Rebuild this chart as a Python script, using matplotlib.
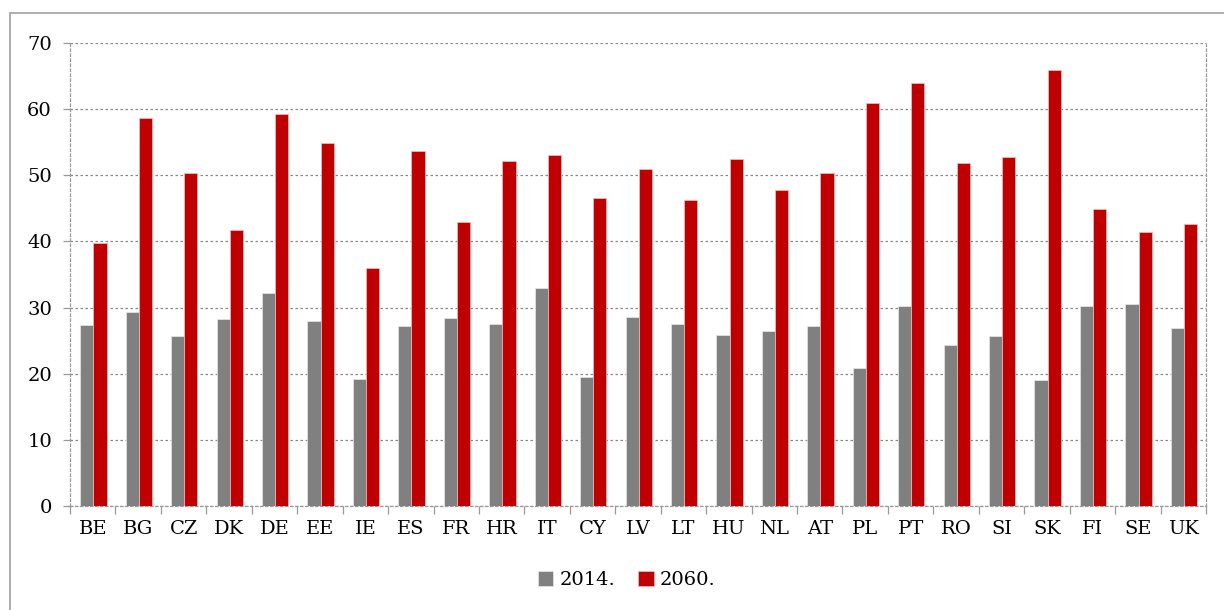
import matplotlib
matplotlib.use("Agg")
import matplotlib.pyplot as plt
import numpy as np
from matplotlib.patches import Rectangle

countries = ["BE", "BG", "CZ", "DK", "DE", "EE", "IE", "ES", "FR", "HR", "IT", "CY", "LV",
             "LT", "HU", "NL", "AT", "PL", "PT", "RO", "SI", "SK", "FI", "SE", "UK"]
v2014 = [27.3, 29.3, 25.7, 28.3, 32.2, 27.9, 19.2, 27.2, 28.4, 27.5, 32.9, 19.5, 28.6,
         27.5, 25.8, 26.4, 27.2, 20.9, 30.2, 24.3, 25.7, 19.0, 30.2, 30.6, 26.9]
v2060 = [39.8, 58.7, 50.3, 41.7, 59.2, 54.9, 36.0, 53.7, 42.9, 52.2, 53.1, 46.6, 51.0,
         46.2, 52.5, 47.8, 50.4, 60.9, 63.9, 51.9, 52.8, 65.9, 44.9, 41.4, 42.7]
series_labels = ["2014.", "2060."]
yticks = [0, 10, 20, 30, 40, 50, 60, 70]

W, H = 1224, 610
fig = plt.figure(figsize=(W / 100, H / 100), dpi=100)
plt.rcParams['font.family'] = ['DejaVu Serif']

# outer border
fig.patches.append(Rectangle((10 / W, -0.1), 1.2, (H - 13) / H + 0.1, transform=fig.transFigure,
                             fill=False, edgecolor="#a0a0a0", linewidth=1.2))

left, right, top, bottom = 70, 1206, 43, 506
ax = fig.add_axes([left / W, 1 - bottom / H, (right - left) / W, (bottom - top) / H])

x = np.arange(len(countries))
bw = 0.29
gray = "#808080"
red = "#C00000"
ax.bar(x + 0.015 - bw / 2, v2014, bw, color=gray, edgecolor="#e8e8e8", linewidth=0.5,
       label=series_labels[0], zorder=3)
ax.bar(x + 0.015 + bw / 2, v2060, bw, color=red, edgecolor="#f0c0c0", linewidth=0.5,
       label=series_labels[1], zorder=3)

ax.set_xlim(-0.5, len(countries) - 0.5)
ax.set_ylim(0, 70)
ax.set_yticks(yticks)
ax.set_yticklabels([str(t) for t in yticks], fontsize=14)
ax.yaxis.grid(True, linestyle=(0, (2, 2)), color="#888888", linewidth=0.9, zorder=0)
ax.set_axisbelow(True)

for s in ["left", "right", "top", "bottom"]:
    ax.spines[s].set_linestyle((0, (2, 2)))
    ax.spines[s].set_color("#999999")
    ax.spines[s].set_linewidth(0.9)
ax.spines["top"].set_visible(False)

ax.set_xticks(x)
ax.set_xticklabels(countries, fontsize=14)
ax.tick_params(axis="x", length=0, pad=10)
ax.set_xticks(np.arange(-0.5, len(countries), 1), minor=True)
ax.tick_params(axis="x", which="minor", length=6, color="#999999", width=0.9)
ax.tick_params(axis="y", length=5, color="#999999", width=0.9, pad=8)

fig.legend(loc="center", bbox_to_anchor=(0.512, 1 - 580 / H), ncol=2, frameon=False,
           fontsize=14, handlelength=0.8, handleheight=0.8, handletextpad=0.3,
           columnspacing=1.2)

fig.savefig("out.png", dpi=100)
